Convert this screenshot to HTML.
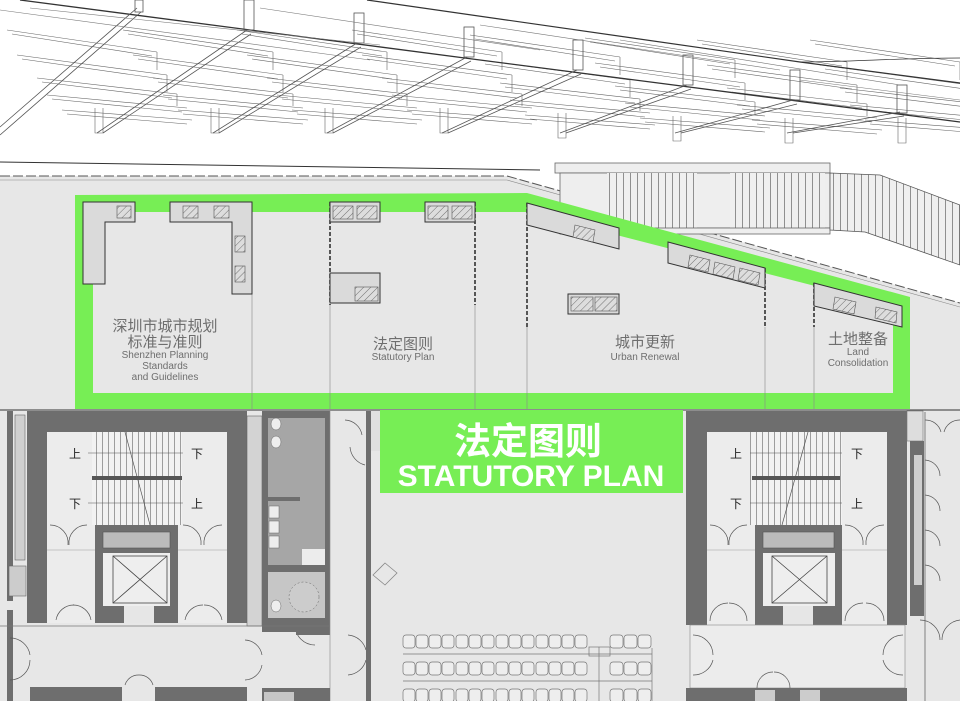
<!DOCTYPE html>
<html><head><meta charset="utf-8"><style>
html,body{margin:0;padding:0;background:#fff}
svg{display:block}
.cn{font-family:"Liberation Sans","Noto Sans CJK SC",sans-serif}
</style></head><body>
<svg width="960" height="701" viewBox="0 0 960 701" xmlns="http://www.w3.org/2000/svg">
<defs>
<pattern id="st" width="6" height="10" patternUnits="userSpaceOnUse"><rect width="6" height="10" fill="#f2f2f2"/><line x1="0.5" y1="0" x2="0.5" y2="10" stroke="#888" stroke-width="0.8"/></pattern>
<pattern id="st2" width="7" height="10" patternUnits="userSpaceOnUse"><rect width="7" height="10" fill="#efefef"/><line x1="0.5" y1="0" x2="0.5" y2="10" stroke="#777" stroke-width="0.8"/></pattern>
<pattern id="ht" width="5" height="5" patternUnits="userSpaceOnUse" patternTransform="rotate(45)"><rect width="5" height="5" fill="#ddd"/><line x1="0" y1="0" x2="0" y2="5" stroke="#555" stroke-width="0.8"/></pattern>
<g id="bay" stroke="#666" stroke-width="0.6" fill="none">
<line x1="-90" y1="30" x2="60" y2="52"/><line x1="-85" y1="34" x2="55" y2="56"/>
<line x1="-80" y1="55" x2="70" y2="75"/><line x1="-75" y1="59" x2="65" y2="79"/>
<line x1="-60" y1="78" x2="80" y2="94"/><line x1="-55" y1="82" x2="75" y2="98"/>
<line x1="-50" y1="95" x2="90" y2="108"/><line x1="-45" y1="99" x2="85" y2="112"/>
<line x1="-35" y1="110" x2="95" y2="120"/><line x1="-30" y1="114" x2="90" y2="124"/>
<path d="M60 52 V70 M70 75 V92 M80 94 V106 M-2 108 V133 L6 133 V108"/>
</g>
</defs>

<!-- roof structure -->
<use href="#bay" x="97"/><use href="#bay" x="213"/><use href="#bay" x="327"/><use href="#bay" x="442"/>
<use href="#bay" x="560" y="5"/><use href="#bay" x="675" y="8"/><use href="#bay" x="787" y="10"/><use href="#bay" x="900" y="10"/>
<g stroke="#333" fill="none">
<path d="M20 0 L480 60 L960 122" stroke-width="1.3"/>
<path d="M367 0 L800 62 L960 83" stroke-width="1.2"/>
<path d="M800 62 C850 62 900 58 960 58" stroke-width="0.7"/>
</g>
<g stroke="#555" stroke-width="0.8" fill="none">
<path d="M0 127 L137 8 M0 135 L141 12"/>
<path d="M97 133 L247 30 M103 133 L251 34"/>
<path d="M213 133 L357 43 M219 133 L361 47"/>
<path d="M327 133 L467 57 M333 133 L471 61"/>
<path d="M442 133 L577 70 M448 133 L581 74"/>
<path d="M560 133 L687 85 M566 133 L691 89"/>
<path d="M675 133 L793 100 M681 133 L797 104"/>
<path d="M787 133 L900 112 M793 133 L904 116"/>
<rect x="244" y="0" width="10" height="30"/><rect x="354" y="13" width="10" height="30"/>
<rect x="464" y="27" width="10" height="30"/><rect x="573" y="40" width="10" height="30"/>
<rect x="683" y="55" width="10" height="30"/><rect x="790" y="70" width="10" height="30"/>
<rect x="897" y="85" width="10" height="28"/><rect x="135" y="0" width="8" height="12"/>
</g>
<g stroke="#777" stroke-width="0.6">
<line x1="0" y1="10" x2="370" y2="60"/><line x1="30" y1="8" x2="380" y2="45"/>
<line x1="260" y1="8" x2="540" y2="50"/><line x1="480" y1="25" x2="780" y2="70"/>
<line x1="620" y1="40" x2="900" y2="85"/><line x1="800" y1="80" x2="960" y2="100"/>
</g>

<!-- floor background -->
<path d="M0 176 L507 176 L960 303 L960 701 L0 701 Z" fill="#e7e7e7"/>
<line x1="0" y1="162" x2="540" y2="170" stroke="#333" stroke-width="1"/>
<path d="M0 176 L507 176 L960 303" fill="none" stroke="#555" stroke-width="1" stroke-dasharray="10 3"/>
<path d="M0 180 L507 180 L960 307" fill="none" stroke="#888" stroke-width="0.6"/>

<!-- upper stairs -->
<rect x="555" y="163" width="275" height="10" fill="#eee" stroke="#666" stroke-width="0.8"/>
<rect x="560" y="173" width="270" height="55" fill="#eee" stroke="#666" stroke-width="0.8"/>
<rect x="607" y="173" width="90" height="55" fill="url(#st2)"/>
<rect x="730" y="173" width="95" height="55" fill="url(#st2)"/>
<rect x="560" y="228" width="270" height="6" fill="#eee" stroke="#666" stroke-width="0.8"/>
<path d="M830 173 L880 175 L960 205 L960 265 L865 232 L830 230 Z" fill="url(#st2)" stroke="#555" stroke-width="0.8"/>

<!-- green outline -->
<path fill-rule="evenodd" fill="#77ee55" d="M75 195 L527 193 L910 297 L910 409 L75 409 Z M93 212 L527 212 L893 306 L893 393 L93 393 Z"/>

<!-- grid lines -->
<g stroke="#888" stroke-width="0.6">
<line x1="252" y1="294" x2="252" y2="409"/><line x1="330" y1="305" x2="330" y2="409"/>
<line x1="475" y1="305" x2="475" y2="409"/><line x1="527" y1="327" x2="527" y2="409"/>
<line x1="765" y1="327" x2="765" y2="409"/><line x1="814" y1="327" x2="814" y2="409"/>
</g>
<g stroke="#333" stroke-width="1.6" stroke-dasharray="4 2">
<line x1="84" y1="202" x2="84" y2="284"/><line x1="251" y1="202" x2="251" y2="294"/>
<line x1="330" y1="202" x2="330" y2="305"/><line x1="475" y1="202" x2="475" y2="305"/>
<line x1="527" y1="203" x2="527" y2="327"/><line x1="765" y1="268" x2="765" y2="327"/>
<line x1="814" y1="283" x2="814" y2="327"/>
</g>

<!-- panels -->
<g fill="#dadada" stroke="#333" stroke-width="1">
<path d="M83 202 H135 V222 H105 V284 H83 Z"/>
<path d="M170 202 H252 V294 H232 V222 H170 Z"/>
<rect x="330" y="202" width="50" height="20"/><rect x="425" y="202" width="50" height="20"/>
<rect x="330" y="273" width="50" height="30"/>
<path d="M527 203 L619 228 L619 249 L527 225 Z"/>
<path d="M668 242 L765 268 L765 288 L668 263 Z"/>
<path d="M814 283 L902 306 L902 327 L814 306 Z"/>
<rect x="568" y="294" width="51" height="20"/>
</g>
<g fill="url(#ht)" stroke="#555" stroke-width="0.6">
<rect x="117" y="206" width="14" height="12"/><rect x="183" y="206" width="15" height="12"/><rect x="214" y="206" width="15" height="12"/>
<rect x="235" y="236" width="10" height="16"/><rect x="235" y="266" width="10" height="16"/>
<rect x="333" y="206" width="20" height="13"/><rect x="357" y="206" width="20" height="13"/>
<rect x="428" y="206" width="20" height="13"/><rect x="452" y="206" width="20" height="13"/>
<rect x="355" y="287" width="23" height="14"/>
<rect x="571" y="297" width="22" height="14"/><rect x="595" y="297" width="22" height="14"/>
<path d="M575 225 L595 230 L593 242 L573 237 Z"/>
<path d="M690 255 L710 260 L708 272 L688 267 Z"/><path d="M715 262 L735 267 L733 279 L713 274 Z"/><path d="M740 268 L760 273 L758 285 L738 280 Z"/>
<path d="M835 297 L856 302 L854 314 L833 309 Z"/><path d="M876 307 L897 312 L896 323 L875 318 Z"/>
</g>

<!-- labels -->
<g class="cn" fill="#6e6e6e" text-anchor="middle">
<text x="165" y="331" font-size="15">深圳市城市规划</text>
<text x="165" y="347" font-size="15">标准与准则</text>
<text x="165" y="358" font-size="10">Shenzhen Planning</text>
<text x="165" y="369" font-size="10">Standards</text>
<text x="165" y="380" font-size="10">and Guidelines</text>
<text x="403" y="349" font-size="15">法定图则</text>
<text x="403" y="360" font-size="10">Statutory Plan</text>
<text x="645" y="347" font-size="15">城市更新</text>
<text x="645" y="360" font-size="10">Urban Renewal</text>
<text x="858" y="344" font-size="15">土地整备</text>
<text x="858" y="355" font-size="10">Land</text>
<text x="858" y="366" font-size="10">Consolidation</text>
</g>

<!-- lower floor -->
<line x1="0" y1="410" x2="960" y2="410" stroke="#333" stroke-width="1"/>
<rect x="7" y="411" width="6" height="190" fill="#6e6e6e"/>
<rect x="15" y="415" width="10" height="145" fill="#cfcfcf" stroke="#666" stroke-width="0.6"/>
<rect x="9" y="566" width="17" height="30" fill="#ccc" stroke="#666" stroke-width="0.6"/>
<rect x="7" y="610" width="6" height="91" fill="#6e6e6e"/>
<rect x="27" y="411" width="220" height="212" fill="#6e6e6e"/>
<rect x="47" y="432" width="180" height="191" fill="#ececec"/>
<rect x="92" y="432" width="90" height="93" fill="url(#st)"/>
<rect x="92" y="476" width="90" height="4" fill="#555"/>
<line x1="125" y1="432" x2="150" y2="525" stroke="#555" stroke-width="0.7"/>
<line x1="88" y1="453" x2="183" y2="453" stroke="#555" stroke-width="0.6"/>
<line x1="88" y1="503" x2="183" y2="503" stroke="#555" stroke-width="0.6"/>
<line x1="47" y1="550" x2="227" y2="550" stroke="#999" stroke-width="0.6"/>
<rect x="95" y="525" width="83" height="98" fill="#6e6e6e"/>
<rect x="103" y="532" width="67" height="16" fill="#bbb" stroke="#555" stroke-width="0.6"/>
<rect x="103" y="553" width="67" height="53" fill="#eee"/>
<path d="M113 556 L167 603 M167 556 L113 603" stroke="#444" stroke-width="0.8"/>
<rect x="113" y="556" width="54" height="47" fill="none" stroke="#444" stroke-width="0.8"/>
<rect x="124" y="606" width="30" height="17" fill="#e6e6e6"/>
<g fill="none" stroke="#555" stroke-width="0.7">
<path d="M50 525 A18 18 0 0 1 68 545 M87 525 A18 18 0 0 0 69 545"/>
<path d="M183 525 A18 18 0 0 1 201 545 M222 525 A18 18 0 0 0 204 545"/>
<path d="M56 620 A18 18 0 0 1 74 605 M91 620 A18 18 0 0 0 73 605"/>
<path d="M185 620 A18 18 0 0 1 203 605 M222 620 A18 18 0 0 0 204 605"/>
<path d="M10 638 A20 20 0 0 1 30 655 M10 680 A20 20 0 0 0 30 660"/>
<path d="M245 640 A18 18 0 0 1 262 655 M245 680 A18 18 0 0 0 262 665"/>
<path d="M345 420 A18 18 0 0 1 362 435 M350 447 A20 20 0 0 0 365 465"/>
<path d="M348 635 A20 20 0 0 1 366 650 M348 675 A20 20 0 0 0 366 660"/>
<path d="M295 625 A20 20 0 0 0 315 645"/>
<path d="M125 685 A14 14 0 0 1 139 675 M153 685 A14 14 0 0 0 139 675"/>
</g>
<g class="cn" font-size="12" fill="#222" text-anchor="middle">
<text x="75" y="458">上</text><text x="197" y="458">下</text>
<text x="75" y="508">下</text><text x="197" y="508">上</text>
</g>
<rect x="247" y="416" width="15" height="210" fill="#d3d3d3" stroke="#666" stroke-width="0.6"/>
<rect x="262" y="411" width="68" height="221" fill="#6e6e6e"/>
<rect x="268" y="418" width="57" height="147" fill="#a6a6a6"/>
<rect x="268" y="572" width="57" height="46" fill="#c6c6c6"/>
<rect x="268" y="497" width="32" height="4" fill="#6e6e6e"/>
<g fill="#eee" stroke="#666" stroke-width="0.5">
<ellipse cx="276" cy="424" rx="5" ry="6"/><ellipse cx="276" cy="442" rx="5" ry="6"/>
<rect x="269" y="506" width="10" height="12"/><rect x="269" y="521" width="10" height="12"/><rect x="269" y="536" width="10" height="12"/>
<ellipse cx="276" cy="606" rx="5" ry="6"/><circle cx="304" cy="597" r="15" fill="#ccc" stroke-dasharray="2 2"/>
</g>
<rect x="302" y="549" width="23" height="16" fill="#ececec"/>
<rect x="296" y="632" width="34" height="3" fill="#6e6e6e"/>
<line x1="330" y1="411" x2="330" y2="701" stroke="#888" stroke-width="0.6"/>
<rect x="366" y="411" width="5" height="290" fill="#6e6e6e"/>
<rect x="371" y="411" width="9" height="40" fill="#e0e0e0"/>
<line x1="0" y1="626" x2="330" y2="626" stroke="#777" stroke-width="0.7"/>
<rect x="30" y="687" width="92" height="14" fill="#6e6e6e"/>
<rect x="155" y="687" width="92" height="14" fill="#6e6e6e"/>
<rect x="262" y="688" width="68" height="13" fill="#6e6e6e"/>
<rect x="264" y="692" width="30" height="9" fill="#c6c6c6"/>
<path d="M373 575 L385 563 L397 573 L385 585 Z" fill="none" stroke="#888" stroke-width="0.8"/>

<!-- green title -->
<rect x="380" y="410" width="303" height="83" fill="#77ee55"/>
<g class="cn" fill="#fff" font-weight="bold" text-anchor="middle">
<text x="528" y="454" font-size="37">法定图则</text>
<text x="531" y="486" font-size="30" font-family="Liberation Sans, sans-serif">STATUTORY PLAN</text>
</g>

<!-- right core -->
<rect x="686" y="411" width="221" height="214" fill="#6e6e6e"/>
<rect x="707" y="432" width="180" height="193" fill="#ececec"/>
<rect x="750" y="432" width="92" height="93" fill="url(#st)"/>
<rect x="752" y="476" width="88" height="4" fill="#555"/>
<line x1="808" y1="432" x2="782" y2="525" stroke="#555" stroke-width="0.7"/>
<line x1="750" y1="453" x2="842" y2="453" stroke="#555" stroke-width="0.6"/>
<line x1="750" y1="503" x2="842" y2="503" stroke="#555" stroke-width="0.6"/>
<line x1="707" y1="550" x2="887" y2="550" stroke="#999" stroke-width="0.6"/>
<rect x="755" y="525" width="87" height="100" fill="#6e6e6e"/>
<rect x="763" y="532" width="71" height="16" fill="#bbb" stroke="#555" stroke-width="0.6"/>
<rect x="763" y="553" width="72" height="53" fill="#eee"/>
<rect x="772" y="556" width="55" height="47" fill="none" stroke="#444" stroke-width="0.8"/>
<path d="M772 556 L827 603 M827 556 L772 603" stroke="#444" stroke-width="0.8"/>
<rect x="783" y="606" width="30" height="19" fill="#e6e6e6"/>
<g class="cn" font-size="12" fill="#222" text-anchor="middle">
<text x="736" y="458">上</text><text x="857" y="458">下</text>
<text x="736" y="508">下</text><text x="857" y="508">上</text>
</g>
<rect x="690" y="625" width="215" height="63" fill="#ececec" stroke="#888" stroke-width="0.6"/>
<rect x="686" y="688" width="221" height="13" fill="#6e6e6e"/>
<rect x="755" y="690" width="20" height="11" fill="#ccc"/><rect x="800" y="690" width="20" height="11" fill="#ccc"/>
<g fill="none" stroke="#555" stroke-width="0.7">
<path d="M710 525 A18 18 0 0 1 728 545 M747 525 A18 18 0 0 0 729 545"/>
<path d="M845 525 A18 18 0 0 1 863 545 M884 525 A18 18 0 0 0 866 545"/>
<path d="M710 621 A18 18 0 0 1 728 603 M747 621 A18 18 0 0 0 729 603"/>
<path d="M845 621 A18 18 0 0 1 863 603 M884 621 A18 18 0 0 0 866 603"/>
<path d="M693 635 A20 20 0 0 1 713 655 M693 675 A20 20 0 0 0 713 660"/>
<path d="M903 635 A20 20 0 0 0 883 655 M903 675 A20 20 0 0 1 883 660"/>
<path d="M757 688 A16 16 0 0 1 773 672 M790 688 A16 16 0 0 0 774 672"/>
<path d="M925 420 A16 16 0 0 1 941 432 M960 420 A16 16 0 0 0 944 432"/>
<path d="M925 460 A16 16 0 0 1 940 476 M925 495 A16 16 0 0 1 940 511 M925 530 A16 16 0 0 1 940 546 M925 565 A16 16 0 0 1 940 581"/>
<path d="M920 620 A20 20 0 0 1 940 640 M960 620 A20 20 0 0 0 942 640"/>
</g>
<rect x="907" y="411" width="16" height="30" fill="#ddd" stroke="#777" stroke-width="0.6"/>
<rect x="910" y="441" width="14" height="175" fill="#6e6e6e"/>
<rect x="914" y="455" width="8" height="130" fill="#cfcfcf"/>
<line x1="925" y1="412" x2="925" y2="701" stroke="#666" stroke-width="0.8"/>

<!-- seats -->
<g fill="#eee" stroke="#777" stroke-width="0.7">
<g id="row">
<rect x="403" y="635" width="12" height="13" rx="3"/><rect x="416" y="635" width="12" height="13" rx="3"/><rect x="429" y="635" width="12" height="13" rx="3"/><rect x="442" y="635" width="12" height="13" rx="3"/><rect x="456" y="635" width="12" height="13" rx="3"/><rect x="469" y="635" width="12" height="13" rx="3"/><rect x="482" y="635" width="12" height="13" rx="3"/><rect x="496" y="635" width="12" height="13" rx="3"/><rect x="509" y="635" width="12" height="13" rx="3"/><rect x="522" y="635" width="12" height="13" rx="3"/><rect x="536" y="635" width="12" height="13" rx="3"/><rect x="549" y="635" width="12" height="13" rx="3"/><rect x="562" y="635" width="12" height="13" rx="3"/><rect x="575" y="635" width="12" height="13" rx="3"/>
<rect x="610" y="635" width="13" height="13" rx="3"/><rect x="624" y="635" width="13" height="13" rx="3"/><rect x="638" y="635" width="13" height="13" rx="3"/>
</g>
<use href="#row" y="27"/><use href="#row" y="54"/>
</g>
<g stroke="#777" stroke-width="0.7" fill="none">
<line x1="403" y1="654" x2="652" y2="654"/><line x1="403" y1="681" x2="652" y2="681"/>
<line x1="599" y1="647" x2="599" y2="701"/><rect x="589" y="647" width="21" height="9"/>
<line x1="652" y1="648" x2="652" y2="701"/>
</g>
</svg>
</body></html>
